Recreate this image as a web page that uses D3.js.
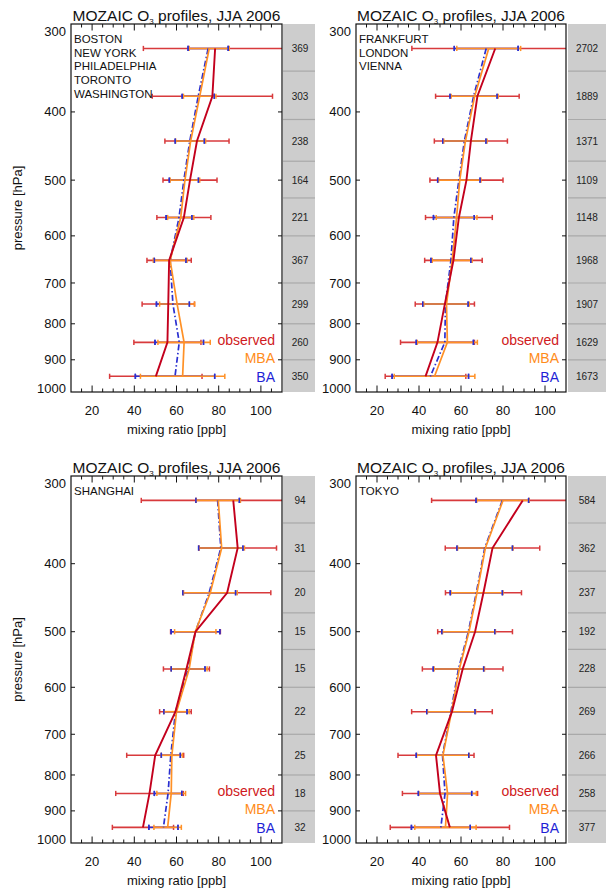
<!DOCTYPE html>
<html>
<head>
<meta charset="utf-8">
<script src="https://cdn.jsdelivr.net/npm/d3@7"></script>
<style>
  html, body { margin: 0; padding: 0; background: #fff; }
  svg { display: block; }
  text { font-family: "Liberation Sans", Arial, Helvetica, sans-serif; }
</style>
</head>
<body>
<svg id="chart" width="606" height="891"></svg>
<script>
// ---------------- data ----------------
const levels = [325, 380, 440, 500, 565, 650, 750, 850, 950];          // hPa (bin centres)
const binEdges = [300, 350, 410, 470, 530, 600, 700, 800, 900, 1000];
const pressureTicks = [300, 400, 500, 600, 700, 800, 900, 1000];
const ratioTicks = [20, 40, 60, 80, 100];
const ratioMinorTicks = [15, 20, 25, 30, 35, 40, 45, 50, 55, 60, 65, 70, 75, 80, 85, 90, 95, 100, 105];
const seriesNames = ["observed", "MBA", "BA"];

// Panel 1: North America
const citiesNA = ["BOSTON", "NEW YORK", "PHILADELPHIA", "TORONTO", "WASHINGTON"];
const obsMeanNA = [78.3, 77.0, 69.7, 66.4, 63.5, 56.5, 56.1, 55.7, 50.2];
const obsStdNA  = [34.0, 28.5, 15.2, 12.8, 12.8, 10.5, 12.4, 15.9, 21.9];
const mbaMeanNA = [75.5, 71.0, 66.7, 64.0, 62.0, 57.0, 60.3, 63.6, 62.9];
const mbaStdNA  = [9.5, 7.7, 7.1, 7.0, 6.2, 8.0, 8.3, 12.4, 20.0];
const baMeanNA  = [75.0, 70.3, 66.3, 63.5, 61.2, 57.0, 58.3, 61.3, 59.3];
const baStdNA   = [9.5, 7.6, 6.9, 6.9, 6.1, 7.5, 7.8, 11.5, 18.8];
const countsNA  = [369, 303, 238, 164, 221, 367, 299, 260, 350];

// Panel 2: Europe
const citiesEU = ["FRANKFURT", "LONDON", "VIENNA"];
const obsMeanEU = [76.3, 67.8, 64.7, 62.6, 59.0, 56.4, 52.3, 48.8, 43.1];
const obsStdEU  = [39.7, 19.9, 17.4, 17.4, 15.9, 13.7, 14.1, 17.6, 19.2];
const mbaMeanEU = [73.2, 66.5, 62.1, 59.4, 57.9, 55.8, 53.1, 53.5, 47.4];
const mbaStdEU  = [15.2, 11.2, 10.3, 10.1, 9.7, 9.5, 10.8, 14.3, 19.2];
const baMeanEU  = [72.0, 66.0, 61.6, 59.0, 56.6, 55.2, 52.6, 52.3, 45.4];
const baStdEU   = [15.2, 11.2, 10.3, 10.1, 9.7, 9.5, 10.8, 13.6, 18.2];
const countsEU  = [2702, 1889, 1371, 1109, 1148, 1968, 1907, 1629, 1673];

// Panel 3: Shanghai
const citiesSH = ["SHANGHAI"];
const obsMeanSH = [86.9, 89.0, 84.0, 69.0, 64.7, 59.5, 49.9, 47.2, 44.1];
const obsStdSH  = [43.6, 18.4, 20.7, 11.8, 10.9, 7.5, 13.5, 16.0, 14.5];
const mbaMeanSH = [79.8, 81.4, 76.0, 68.9, 66.0, 60.0, 57.8, 57.5, 55.8];
const mbaStdSH  = [10.5, 10.8, 12.8, 9.8, 8.5, 6.0, 5.0, 6.8, 6.5];
const baMeanSH  = [79.5, 81.0, 75.5, 69.0, 65.5, 59.5, 57.3, 56.0, 53.8];
const baStdSH   = [10.3, 10.5, 12.5, 11.5, 8.0, 5.5, 4.5, 6.5, 6.9];
const countsSH  = [94, 31, 20, 15, 15, 22, 25, 18, 32];

// Panel 4: Tokyo
const citiesTK = ["TOKYO"];
const obsMeanTK = [89.4, 75.0, 70.7, 66.7, 60.8, 55.7, 48.1, 50.0, 54.7];
const obsStdTK  = [43.4, 22.5, 18.1, 17.8, 19.2, 19.2, 18.1, 17.9, 28.4];
const mbaMeanTK = [80.0, 71.6, 67.6, 63.8, 59.2, 55.5, 51.4, 53.6, 52.6];
const mbaStdTK  = [12.5, 13.2, 12.4, 12.6, 12.0, 11.5, 12.5, 13.7, 14.6];
const baMeanTK  = [79.7, 71.3, 67.3, 63.5, 58.8, 55.2, 51.2, 52.4, 50.4];
const baStdTK   = [12.5, 13.2, 12.4, 12.6, 12.0, 11.5, 12.5, 12.7, 14.0];
const countsTK  = [584, 362, 237, 192, 228, 269, 266, 258, 377];

// ---------------- layout / style ----------------
const panels = [
  {cities: citiesNA, obs: obsMeanNA, obsS: obsStdNA, mba: mbaMeanNA, mbaS: mbaStdNA, ba: baMeanNA, baS: baStdNA, n: countsNA,
   box: {l: 71, r: 282, t: 24, b: 392}, gray: {l: 283, r: 315}, yTitle: true},
  {cities: citiesEU, obs: obsMeanEU, obsS: obsStdEU, mba: mbaMeanEU, mbaS: mbaStdEU, ba: baMeanEU, baS: baStdEU, n: countsEU,
   box: {l: 356, r: 566, t: 24, b: 392}, gray: {l: 568, r: 610}, yTitle: false},
  {cities: citiesSH, obs: obsMeanSH, obsS: obsStdSH, mba: mbaMeanSH, mbaS: mbaStdSH, ba: baMeanSH, baS: baStdSH, n: countsSH,
   box: {l: 71, r: 282, t: 476, b: 843}, gray: {l: 283, r: 315}, yTitle: true},
  {cities: citiesTK, obs: obsMeanTK, obsS: obsStdTK, mba: mbaMeanTK, mbaS: mbaStdTK, ba: baMeanTK, baS: baStdTK, n: countsTK,
   box: {l: 356, r: 566, t: 476, b: 843}, gray: {l: 568, r: 610}, yTitle: false}
];

const C = {
  obsLine: "#c3001d", obsBar: "#d83a3c", obsText: "#d01a22",
  mba: "#ff9126", mbaText: "#ff8c1a",
  ba: "#2a2fd0", baText: "#1f1fd6",
  gray: "#cdcdcd", grayLine: "#a9a9a9"
};

const svg = d3.select("#chart");

panels.forEach((P, pi) => {
  const g = svg.append("g");
  const x = d3.scaleLinear().domain([10, 110]).range([P.box.l, P.box.r]);
  const y = d3.scaleLog().domain([300, 1000]).range([P.box.t, P.box.b]);

  // gray count box
  g.append("rect").attr("x", P.gray.l).attr("y", y(300))
    .attr("width", P.gray.r - P.gray.l).attr("height", y(1000) - y(300))
    .attr("fill", C.gray);
  g.selectAll(".div").data(binEdges.slice(1, -1)).enter().append("line")
    .attr("x1", P.gray.l).attr("x2", P.gray.r)
    .attr("y1", d => y(d)).attr("y2", d => y(d))
    .attr("stroke", C.grayLine).attr("stroke-width", 1.2);
  const gcx = (P.gray.l + Math.min(P.gray.r, 606)) / 2 + (pi % 2 === 0 ? 1 : 0);
  g.selectAll(".cnt").data(P.n).enter().append("text")
    .attr("x", gcx).attr("y", (d, i) => y(levels[i]))
    .attr("dy", "0.35em").attr("text-anchor", "middle")
    .attr("font-size", 10).attr("fill", "#222").text(d => d);

  // clip
  const cid = "clip" + pi;
  svg.append("clipPath").attr("id", cid).append("rect")
    .attr("x", P.box.l).attr("y", P.box.t)
    .attr("width", P.box.r - P.box.l).attr("height", P.box.b - P.box.t);
  const plot = g.append("g").attr("clip-path", `url(#${cid})`);

  // error bars
  function errBars(means, stds, color, width, drawLine) {
    const rows = means.map((m, i) => ({p: levels[i], lo: m - stds[i], hi: m + stds[i]}));
    if (drawLine) {
      plot.selectAll(null).data(rows).enter().append("line")
        .attr("x1", d => x(d.lo)).attr("x2", d => x(d.hi))
        .attr("y1", d => y(d.p)).attr("y2", d => y(d.p))
        .attr("stroke", color).attr("stroke-width", width);
    }
    ["lo", "hi"].forEach(k => {
      plot.selectAll(null).data(rows).enter().append("line")
        .attr("x1", d => x(d[k])).attr("x2", d => x(d[k]))
        .attr("y1", d => y(d.p) - 2.6).attr("y2", d => y(d.p) + 2.6)
        .attr("stroke", color).attr("stroke-width", 1.5);
    });
  }
  errBars(P.obs, P.obsS, C.obsBar, 1.6, true);
  errBars(P.ba, P.baS, C.ba, 1.4, true);
  errBars(P.mba, P.mbaS, C.mba, 1.6, true);
  errBars(P.ba, P.baS, C.ba, 1.4, false);

  // profiles
  const line = d3.line().x(d => x(d.v)).y(d => y(d.p));
  const prof = arr => arr.map((v, i) => ({v, p: levels[i]}));
  plot.append("path").datum(prof(P.ba)).attr("d", line).attr("fill", "none")
    .attr("stroke", C.ba).attr("stroke-width", 1.7).attr("stroke-dasharray", "6,2.5,1.5,2.5");
  plot.append("path").datum(prof(P.mba)).attr("d", line).attr("fill", "none")
    .attr("stroke", C.mba).attr("stroke-width", 1.7);
  plot.append("path").datum(prof(P.obs)).attr("d", line).attr("fill", "none")
    .attr("stroke", C.obsLine).attr("stroke-width", 1.9);

  // axes frame
  g.append("rect").attr("x", P.box.l).attr("y", P.box.t)
    .attr("width", P.box.r - P.box.l).attr("height", P.box.b - P.box.t)
    .attr("fill", "none").attr("stroke", "#111").attr("stroke-width", 1.2);

  // x ticks (bottom + top, inward)
  const isMajor = d => ratioTicks.includes(d);
  [[P.box.b, -1], [P.box.t, 1]].forEach(([yy, dir]) => {
    g.selectAll(null).data(ratioMinorTicks).enter().append("line")
      .attr("x1", d => x(d)).attr("x2", d => x(d))
      .attr("y1", yy).attr("y2", d => yy + dir * (isMajor(d) ? 6.5 : 3.5))
      .attr("stroke", "#111").attr("stroke-width", 1);
  });
  g.selectAll(null).data(ratioTicks).enter().append("text")
    .attr("x", d => x(d)).attr("y", P.box.b + 18).attr("dy", "0.35em")
    .attr("text-anchor", "middle").attr("font-size", 13).attr("fill", "#111").text(d => d);
  g.append("text").attr("x", (P.box.l + P.box.r) / 2).attr("y", P.box.b + 37).attr("dy", "0.35em")
    .attr("text-anchor", "middle").attr("font-size", 13).attr("fill", "#111").text("mixing ratio [ppb]");

  // y ticks (left + right, inward)
  const innerP = pressureTicks.slice(1, -1);
  [[P.box.l, 1], [P.box.r, -1]].forEach(([xx, dir]) => {
    g.selectAll(null).data(innerP).enter().append("line")
      .attr("x1", xx).attr("x2", xx + dir * 4)
      .attr("y1", d => y(d)).attr("y2", d => y(d))
      .attr("stroke", "#111").attr("stroke-width", 1);
  });
  g.selectAll(null).data(pressureTicks).enter().append("text")
    .attr("x", P.box.l - 5)
    .attr("y", d => y(d) + (d === 300 ? 7 : d === 1000 ? -4 : 0))
    .attr("dy", "0.35em").attr("text-anchor", "end").attr("font-size", 13).attr("fill", "#111")
    .text(d => d);
  if (P.yTitle) {
    const cy = (P.box.t + P.box.b) / 2;
    g.append("text").attr("transform", `translate(17,${cy}) rotate(-90)`)
      .attr("dy", "0.35em").attr("text-anchor", "middle").attr("font-size", 13).attr("fill", "#111")
      .text("pressure [hPa]");
  }

  // title
  const t = g.append("text").attr("x", (P.box.l + P.box.r) / 2).attr("y", P.box.t - 3)
    .attr("text-anchor", "middle").attr("font-size", 15.5).attr("fill", "#111");
  t.append("tspan").text("MOZAIC O");
  t.append("tspan").attr("font-size", 8).attr("dy", 3).text("3");
  t.append("tspan").attr("dy", -3).text(" profiles, JJA 2006");

  // city names
  g.selectAll(null).data(P.cities).enter().append("text")
    .attr("x", P.box.l + 3).attr("y", (d, i) => P.box.t + 18.7 + i * 13.8)
    .attr("font-size", 11.5).attr("fill", "#111").text(d => d);

  // legend
  const legColors = [C.obsText, C.mbaText, C.baText];
  const legOffsets = [-47.5, -28.7, -10.3];
  g.selectAll(null).data(seriesNames).enter().append("text")
    .attr("x", P.box.r - 7).attr("y", (d, i) => P.box.b + legOffsets[i])
    .attr("text-anchor", "end").attr("font-size", 14)
    .attr("fill", (d, i) => legColors[i]).text(d => d);
});
</script>
</body>
</html>
